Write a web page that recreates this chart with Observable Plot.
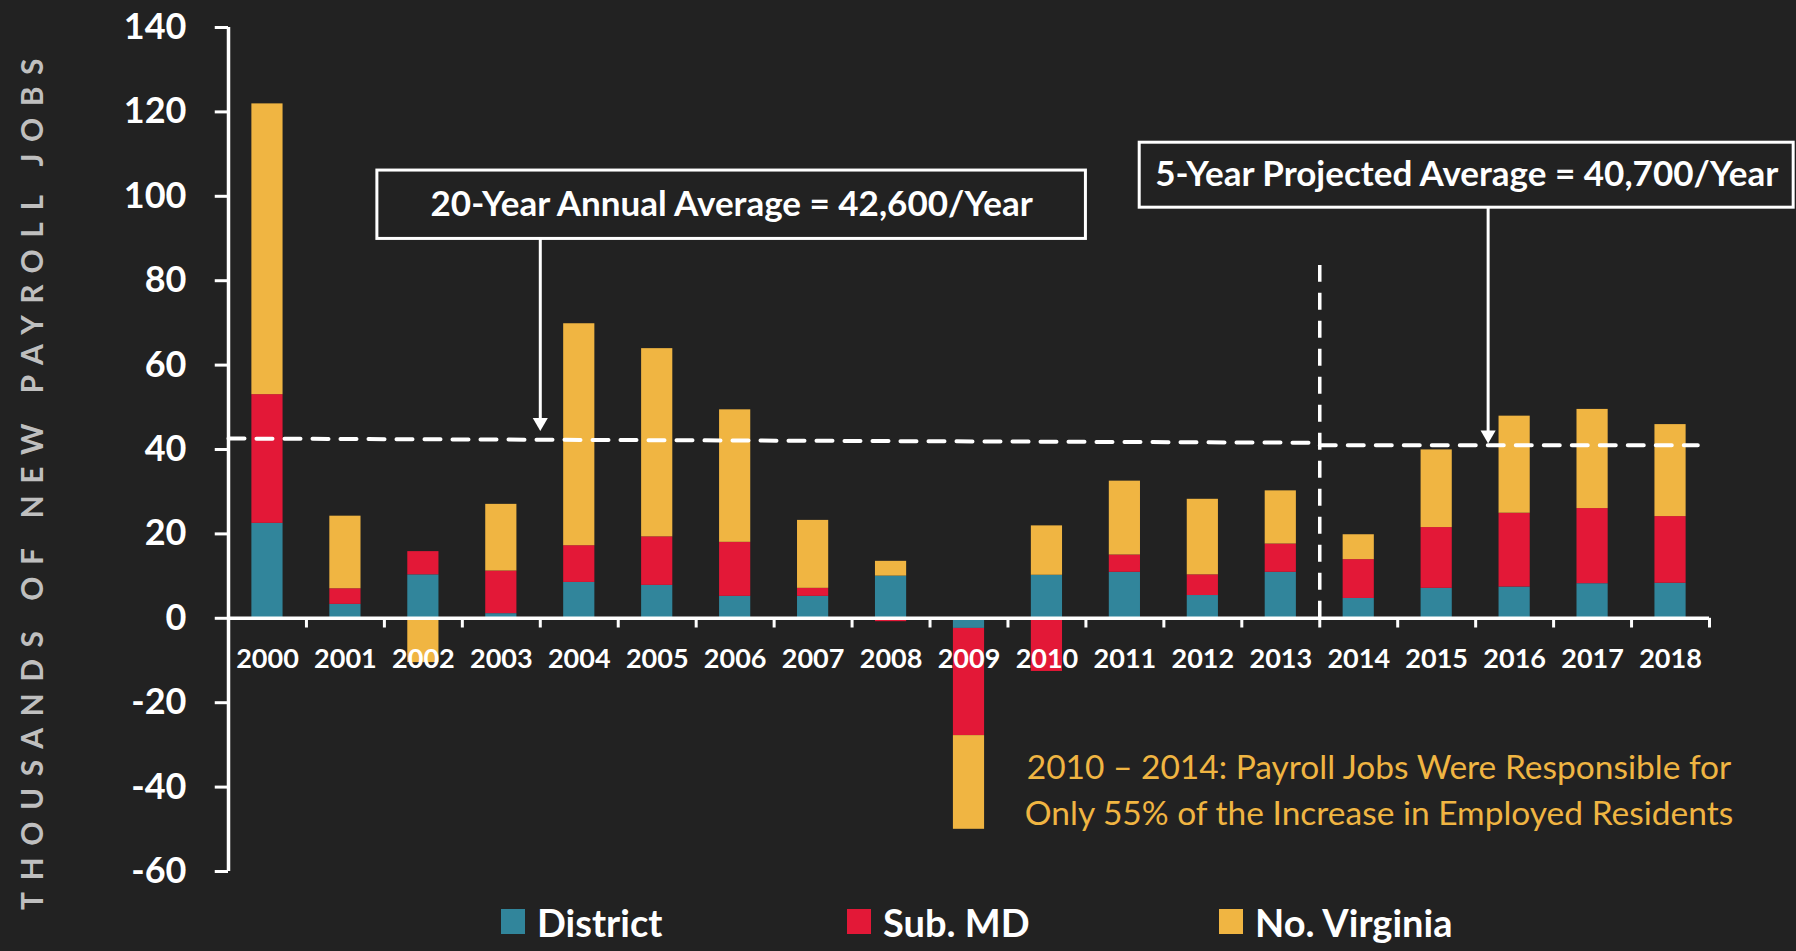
<!DOCTYPE html>
<html>
<head>
<meta charset="utf-8">
<script src="https://cdn.jsdelivr.net/npm/d3@7"></script>
<script src="https://cdn.jsdelivr.net/npm/@observablehq/plot@0.6"></script>
<style>
  html, body { margin: 0; padding: 0; background: #222222; }
  #chart { width: 1796px; }
  #chart svg { overflow: visible; display: block; }
  #legend { position: relative; width: 1796px; height: 59px; font-family: Lato, "Open Sans", sans-serif; font-weight: bold; color: #ffffff; }
  .item { position: absolute; top: 0; height: 59px; display: flex; align-items: center; font-size: 38px; white-space: nowrap; }
  .sw { width: 24px; height: 25px; margin-right: 12px; }
</style>
</head>
<body>
<div id="chart"></div>
<div id="legend"></div>
<script>
// ---------------- data ----------------
const years      = [2000, 2001, 2002, 2003, 2004, 2005, 2006, 2007, 2008, 2009, 2010, 2011, 2012, 2013, 2014, 2015, 2016, 2017, 2018];
const district   = [22.5,  3.3, 10.3,  1.1,  8.5,  7.8,  5.2,  5.2, 10.0,  -2.4,  10.2, 10.9,  5.4, 10.9,  4.7,  7.1,  7.4,  8.2,  8.3];
const subMD      = [30.5,  3.7,  5.5, 10.1,  8.7, 11.5, 12.8,  1.9, -0.8, -25.4, -12.6,  4.1,  4.9,  6.7,  9.2, 14.4, 17.5, 17.8, 15.8];
const noVirginia = [68.9, 17.2, -10.5, 15.8, 52.6, 44.6, 31.4, 16.1,  3.5, -22.2, 11.7, 17.5, 17.9, 12.6,  5.9, 18.4, 23.0, 23.5, 21.8];

const seriesNames  = ["District", "Sub. MD", "No. Virginia"];
const seriesColors = ["#31859b", "#e31837", "#f0b542"];

const yTicks = [-60, -40, -20, 0, 20, 40, 60, 80, 100, 120, 140];
const yTitle = "THOUSANDS OF NEW PAYROLL JOBS";

// average lines (data units)
const avg20Line = [{year: 1999.5, value: 42.6}, {year: 2013.5, value: 41.6}];
const avg5Line  = [{year: 2013.5, value: 41.0}, {year: 2018.35, value: 41.0}];
const splitLine = [{year: 2013.5, top: 83.6}];

const boxes = [
  {text: "20-Year Annual Average = 42,600/Year", x1: 2001.41, x2: 2010.5, y1: 89.9, y2: 106.1, arrowX: 2003.5, arrowTip: 44.4},
  {text: "5-Year Projected Average = 40,700/Year", x1: 2011.19, x2: 2019.58, y1: 97.3, y2: 112.7, arrowX: 2015.66, arrowTip: 41.4}
];

const note = {text: "2010 \u2013 2014: Payroll Jobs Were Responsible for\nOnly 55% of the Increase in Employed Residents", x: 2014.26, y: -40.1};

// ---------------- table ----------------
const table = [];
years.forEach((yr, i) => {
  table.push({year: yr, region: seriesNames[0], value: district[i]});
  table.push({year: yr, region: seriesNames[1], value: subMD[i]});
  table.push({year: yr, region: seriesNames[2], value: noVirginia[i]});
});
const xBounds = years.map(y => y - 0.5).concat([years[years.length - 1] + 0.5]);
const xMin = xBounds[0], xMax = xBounds[xBounds.length - 1];
const barHalf = 0.2;
const FONT = "Lato, 'Open Sans', sans-serif";
const BG = "#222222";

const plot = Plot.plot({
  width: 1796,
  height: 892,
  marginTop: 27,
  marginBottom: 21,
  marginLeft: 228,
  marginRight: 87,
  x: {domain: [xMin, xMax], axis: null},
  y: {domain: [-60, 140], axis: null},
  color: {domain: seriesNames, range: seriesColors},
  style: {background: BG, color: "white", fontFamily: FONT, overflow: "visible"},
  marks: [
    Plot.rectY(table, {x1: d => d.year - barHalf, x2: d => d.year + barHalf, y: "value", fill: "region"}),
    // axes
    Plot.ruleY([0], {stroke: "white", strokeWidth: 3.5}),
    Plot.ruleX(xBounds, {x: d => d, y1: 0, y2: -2.3, stroke: "white", strokeWidth: 3}),
    Plot.ruleX([xMin], {y1: -60, y2: 140, stroke: "white", strokeWidth: 3.5}),
    Plot.ruleY(yTicks, {y: d => d, x1: xMin - 0.17, x2: xMin, stroke: "white", strokeWidth: 3}),
    Plot.text(yTicks, {x: xMin, y: d => d, text: d => String(d), textAnchor: "end", dx: -42, fill: "white", fontSize: 36, fontWeight: "bold"}),
    Plot.text(years, {x: d => d, y: 0, dy: 41, text: d => String(d), fill: "white", fontSize: 27, fontWeight: "bold"}),
    Plot.text([yTitle], {frameAnchor: "left", textAnchor: "middle", text: d => d, rotate: -90, dx: -195, dy: 29, fill: "#bfbfbf", fontSize: 30, fontWeight: "bold"}),
    // average lines
    Plot.line(avg20Line, {x: "year", y: "value", stroke: "white", strokeWidth: 4, strokeDasharray: "16,12"}),
    Plot.line(avg5Line, {x: "year", y: "value", stroke: "white", strokeWidth: 4, strokeDasharray: "16,12"}),
    Plot.ruleX(splitLine, {x: "year", y1: 0, y2: "top", stroke: "white", strokeWidth: 3.5, strokeDasharray: "17,11"}),
    // boxes + arrows
    Plot.ruleX(boxes, {x: "arrowX", y1: "y1", y2: "arrowTip", stroke: "white", strokeWidth: 3, insetBottom: 8}),
    Plot.dot(boxes, {x: "arrowX", y: "arrowTip", symbol: "triangle", r: 5.6, rotate: 180, dy: -8.7, fill: "white", stroke: "none"}),
    Plot.rect(boxes, {x1: "x1", x2: "x2", y1: "y1", y2: "y2", fill: BG, stroke: "white", strokeWidth: 3}),
    Plot.text(boxes, {x: d => (d.x1 + d.x2) / 2, y: d => (d.y1 + d.y2) / 2, text: "text", fill: "white", fontSize: 35, fontWeight: "bold"}),
    // note
    Plot.text([note], {x: "x", y: "y", text: "text", fill: "#f0b542", fontSize: 33.5, lineHeight: 1.38})
  ]
});

// letter spacing for the y title
plot.querySelectorAll("text").forEach(t => {
  if (t.textContent === yTitle) t.style.letterSpacing = "11.5px";
});
document.getElementById("chart").appendChild(plot);

// legend
const legendLeft = [501, 847, 1219];
const legend = document.getElementById("legend");
seriesNames.forEach((name, i) => {
  const item = document.createElement("div");
  item.className = "item";
  item.style.left = legendLeft[i] + "px";
  const sw = document.createElement("div");
  sw.className = "sw";
  sw.style.background = seriesColors[i];
  const label = document.createElement("span");
  label.textContent = name;
  item.appendChild(sw);
  item.appendChild(label);
  legend.appendChild(item);
});
</script>
</body>
</html>
